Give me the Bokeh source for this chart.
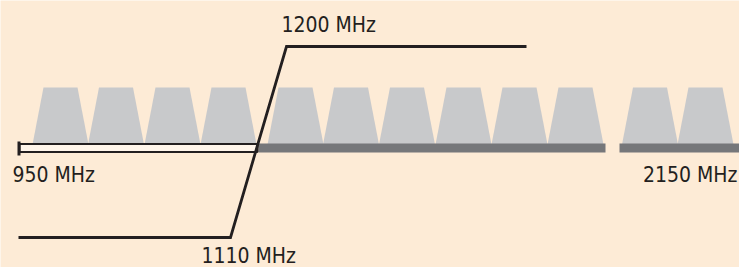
from bokeh.plotting import figure
from bokeh.models import Range1d
from bokeh.core.properties import value
from bokeh.embed import file_html
from bokeh.resources import INLINE

# ---- schematic data (diagram units = page pixels) ----
channel_centers = [60, 115.5, 172, 228, 295, 350.5, 406.5, 463, 519, 575, 649.5, 705]
channel_bottom_w = 56
channel_top_w = 34
channel_top_y = 87
channel_base_y = 143

# band bars
if_band_start, if_band_end = 18, 258          # open bar
sat_band_starts = [258, 619]                  # shaded bars
sat_band_ends = [605, 760]
bar_top_y, bar_bottom_y = 143.5, 151.5

# step line
step_x = [18, 230, 286, 526]
step_y = [237, 237, 46, 46]

# labels (vertical centre of the digits)
label_text = ["950 MHz", "2150 MHz", "1200 MHz", "1110 MHz"]
label_x = [12, 737, 281, 201]
label_y = [174.5, 174.5, 24.5, 255.5]
label_align = ["left", "right", "left", "left"]

BG = "#fdebd6"
CH = "#c8c9cb"
DARK = "#76777a"
INK = "#231f20"

p = figure(width=739, height=267, x_range=Range1d(0, 739), y_range=Range1d(267, 0),
           output_backend="svg", toolbar_location=None, min_border=0)
p.axis.visible = False
p.grid.visible = False
p.outline_line_color = None
p.background_fill_color = BG
p.border_fill_color = BG

# channels (trapezoids)
xs, ys = [], []
for c in channel_centers:
    xs.append([c - channel_bottom_w / 2, c - channel_top_w / 2, c + channel_top_w / 2, c + channel_bottom_w / 2])
    ys.append([channel_base_y + 1, channel_top_y, channel_top_y, channel_base_y + 1])
p.patches(xs, ys, fill_color=CH, line_color=None)

# shaded bars
p.quad(left=sat_band_starts, right=sat_band_ends, top=[bar_top_y - 0.5] * 2, bottom=[bar_bottom_y + 0.5] * 2,
       fill_color=DARK, line_color=None)

# open bar
p.quad(left=[if_band_start + 1], right=[if_band_end - 1], top=[bar_top_y], bottom=[bar_bottom_y],
       fill_color="#fff5ea", line_color=INK, line_width=2)

# end cap
p.segment(x0=[if_band_start + 0.5], y0=[141], x1=[if_band_start + 0.5], y1=[155], line_color=INK, line_width=3)

# step line
p.line(step_x, step_y, line_color=INK, line_width=2.8, line_join="miter")

# labels
p.text(x=label_x, y=label_y, text=label_text, text_align=label_align,
       text_font=value("'Liberation Sans Narrow', 'DejaVu Sans Condensed', sans-serif"),
       text_font_size="21px", text_color=INK, text_baseline="middle")

html = file_html(p, INLINE)
html = html.replace("<body>", '<body style="margin:0;background-color:%s;">' % BG, 1)
open("out.html", "w").write(html)
